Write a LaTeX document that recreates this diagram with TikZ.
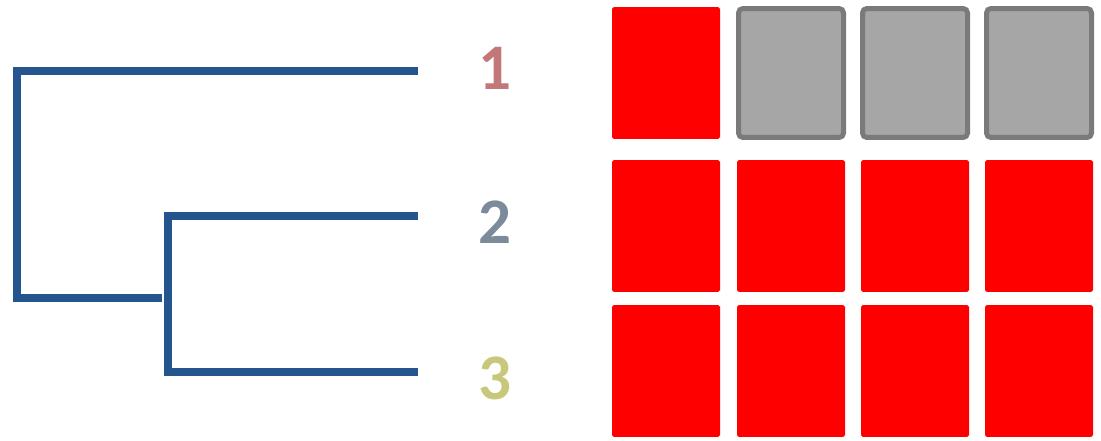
\documentclass[tikz,border=0pt]{standalone}
\usepackage{fontspec}
\setsansfont{Carlito}
\usepackage{xcolor}
\definecolor{branch}{HTML}{25558F}
\definecolor{onecol}{HTML}{C27878}
\definecolor{twocol}{HTML}{7B8B9B}
\definecolor{threecol}{HTML}{C8C87C}
\definecolor{cellred}{HTML}{FF0000}
\definecolor{cellgrey}{HTML}{A6A6A6}
\definecolor{celledge}{HTML}{7A7A7A}
\usepackage{tikz}

\begin{document}
\begin{tikzpicture}[x=0.02cm, y=-0.02cm,
    link/.style={draw=branch, line width=0.16cm, line cap=rect},
    label/.style={font=\sffamily\bfseries\fontsize{37}{44}\selectfont},
    hit/.style={fill=cellred, rounded corners=1pt,
                minimum width=2.16cm, minimum height=2.64cm},
    miss/.style={draw=celledge, fill=cellgrey, line width=0.1cm, rounded corners=2.5pt,
                 minimum width=2.1cm, minimum height=2.58cm}]

  \useasboundingbox (0,0) rectangle (1101,440);

  % tree
  \coordinate (n0) at (17,71);
  \coordinate (n0b) at (17,298);
  \coordinate (j) at (158,298);
  \coordinate (n1) at (168,216);
  \coordinate (n1b) at (168,372);
  \coordinate (l1) at (414,71);
  \coordinate (l2) at (414,216);
  \coordinate (l3) at (414,372);

  \draw[link] (n0) -- (n0b);
  \draw[link] (n0) -- (l1);
  \draw[link] (n0b) -- (j);
  \draw[link] (n1) -- (n1b);
  \draw[link] (n1) -- (l2);
  \draw[link] (n1b) -- (l3);

  % labels
  \node[label, text=onecol] (one) at (495,68) {1};
  \node[label, text=twocol] (two) at (495,222) {2};
  \node[label, text=threecol] (three) at (495,378) {3};

  % row 1
  \node[hit] (c11) at (666,73) {};
  \node[miss] (c12) at (791,73) {};
  \node[miss] (c13) at (915,73) {};
  \node[miss] (c14) at (1039,73) {};

  % row 2
  \node[hit] (c21) at (666,226) {};
  \node[hit] (c22) at (791,226) {};
  \node[hit] (c23) at (915,226) {};
  \node[hit] (c24) at (1039,226) {};

  % row 3
  \node[hit] (c31) at (666,371) {};
  \node[hit] (c32) at (791,371) {};
  \node[hit] (c33) at (915,371) {};
  \node[hit] (c34) at (1039,371) {};

\end{tikzpicture}
\end{document}
